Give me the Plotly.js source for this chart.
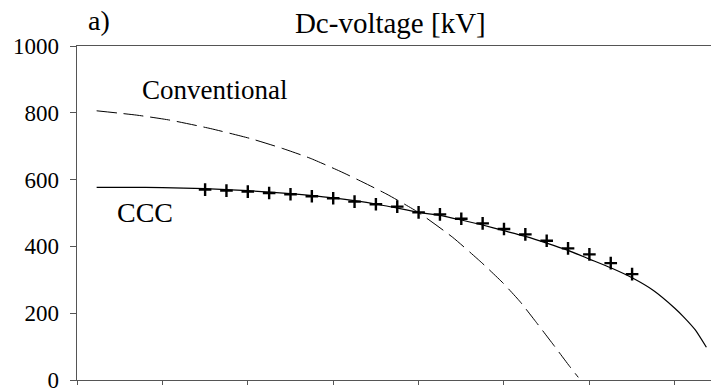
<!DOCTYPE html>
<html>
<head>
<meta charset="utf-8">
<script src="https://cdn.plot.ly/plotly-3.0.1.min.js"></script>
<style>html,body{margin:0;padding:0;background:#fff;}#chart{width:711px;height:389px;}</style>
</head>
<body>
<div id="chart"></div>
<script>
// CCC curve (solid)
const cccX = [0.23, 0.6, 1.0, 1.5, 2.0, 2.5, 3.0, 3.5, 4.0, 4.25, 4.5, 4.75, 5.0, 5.25, 5.5, 5.75, 6.0, 6.25, 6.5, 6.75, 7.0, 7.1, 7.24, 7.37];
const cccY = [577, 577, 576, 573, 567, 558, 545, 527, 502, 493, 479, 464, 447, 430, 410, 388, 362, 336, 306, 268, 215, 190, 150, 98];
// Conventional curve (dashed)
const convX = [0.23, 0.70, 1.09, 1.56, 2.03, 2.41, 2.73, 3.08, 3.35, 3.63, 3.99, 4.40, 4.74, 4.99, 5.19, 5.38, 5.58, 5.78, 5.87];
const convY = [806, 793, 778, 753, 723, 693, 664, 625, 592, 556, 503, 427, 351, 290, 234, 172, 105, 37, 8];
// Measured points (+)
const ptsX = [1.5, 1.75, 2.0, 2.25, 2.5, 2.75, 3.0, 3.25, 3.5, 3.75, 4.0, 4.25, 4.5, 4.75, 5.0, 5.25, 5.5, 5.75, 6.0, 6.25, 6.5];
const ptsY = [570, 567, 564, 560, 556, 550, 544, 534, 526, 519, 502, 496, 483, 469, 452, 436, 417, 394, 376, 350, 317];
const yTicks = [0, 200, 400, 600, 800, 1000];

const serif = 'Liberation Serif';

const traces = [
  {x: convX, y: convY, mode: 'lines', line: {color: '#000', width: 1, dash: '20px,7px', shape: 'spline', smoothing: 0.5}, hoverinfo: 'skip'},
  {x: cccX, y: cccY, mode: 'lines', line: {color: '#000', width: 1.2, shape: 'spline', smoothing: 0.5}, hoverinfo: 'skip'},
  {x: ptsX, y: ptsY, mode: 'markers', marker: {symbol: 'cross-thin', size: 9, color: '#000', line: {color: '#000', width: 2.4}}, hoverinfo: 'skip'}
];

const layout = {
  width: 711, height: 389,
  margin: {l: 77, r: 0, t: 46, b: 9},
  paper_bgcolor: '#fff', plot_bgcolor: '#fff',
  showlegend: false,
  title: {text: 'Dc-voltage [kV]', x: 0.549, xref: 'container', xanchor: 'center', y: 0.94, yref: 'container', yanchor: 'middle', font: {family: serif, size: 29, color: '#000'}},
  xaxis: {
    range: [0, 7.424], dtick: 1, tick0: 0, showticklabels: false, showgrid: false, zeroline: false,
    showline: true, linecolor: '#555', linewidth: 1.3, mirror: true,
    ticks: 'outside', ticklen: 4, tickcolor: '#555', tickwidth: 1
  },
  yaxis: {
    range: [0, 1000], tickvals: yTicks, ticktext: yTicks.map(String), showgrid: false, zeroline: false,
    showline: true, linecolor: '#555', linewidth: 1.3,
    ticks: 'outside', ticklen: 6, tickcolor: '#555', tickwidth: 1,
    ticklabelstandoff: 6, ticklabeloverflow: 'allow',
    tickfont: {family: serif, size: 23, color: '#000'}
  },
  annotations: [
    {text: 'a)', xref: 'paper', yref: 'paper', x: (99 - 77) / 634, y: 1 + (46 - 21) / 334, xanchor: 'center', yanchor: 'middle', showarrow: false, font: {family: serif, size: 28, color: '#000'}},
    {text: 'Conventional', xref: 'x', yref: 'y', x: 1.61, y: 868, xanchor: 'center', yanchor: 'middle', showarrow: false, font: {family: serif, size: 27, color: '#000'}},
    {text: 'CCC', xref: 'x', yref: 'y', x: 0.80, y: 503, xanchor: 'center', yanchor: 'middle', showarrow: false, font: {family: serif, size: 28, color: '#000'}}
  ]
};

Plotly.newPlot('chart', traces, layout, {displayModeBar: false, staticPlot: true});
</script>
</body>
</html>
